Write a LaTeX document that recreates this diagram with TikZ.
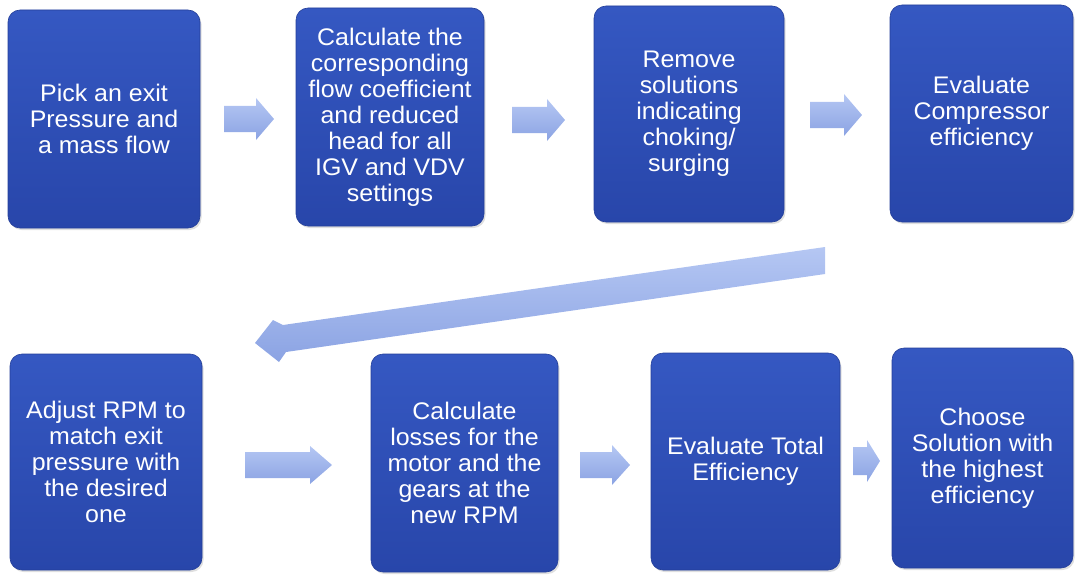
\documentclass[tikz,border=0pt]{standalone}
\usepackage{fontspec}
\setmainfont{Liberation Sans}[FakeStretch=1.04]
\usetikzlibrary{shadows}
\definecolor{boxtop}{HTML}{3558C2}
\definecolor{boxbot}{HTML}{2846AA}
\definecolor{arrlight}{HTML}{B5C7F3}
\definecolor{arrdark}{HTML}{8BA3E3}
\tikzset{
  stepbox/.style={rounded corners=12pt, top color=boxtop, bottom color=boxbot,
    draw=boxbot!90!black, line width=0.6pt, text=white, align=center,
    font=\fontsize{24}{26}\selectfont, inner sep=0pt,
    drop shadow={opacity=0.25, shadow xshift=1.5pt, shadow yshift=-2pt}},
  blockarrow/.style={top color=arrlight, bottom color=arrdark, draw=none}
}
% left x, right x, centre y, body half height, head half height, head length
\newcommand{\harrow}[6]{%
  \shade[blockarrow] (#1,#3-#4) -- (#2-#6,#3-#4) -- (#2-#6,#3-#5) -- (#2,#3)
    -- (#2-#6,#3+#5) -- (#2-#6,#3+#4) -- (#1,#3+#4) -- cycle;}
\begin{document}
\begin{tikzpicture}[x=1pt,y=-1pt]
\useasboundingbox (0,0) rectangle (1075,575);
% top row
\node[stepbox, minimum width=192pt, minimum height=218pt] (b1) at (104,119)
  {Pick an exit\\Pressure and\\a mass flow};
\node[stepbox, minimum width=188pt, minimum height=218pt] (b2) at (390,117)
  {Calculate the\\corresponding\\flow coefficient\\and reduced\\head for all\\IGV and VDV\\settings};
\node[stepbox, minimum width=190pt, minimum height=216pt] (b3) at (689,114)
  {Remove\\solutions\\indicating\\choking/\\surging};
\node[stepbox, minimum width=183pt, minimum height=217pt] (b4) at (981.5,113.5)
  {Evaluate\\Compressor\\efficiency};
% bottom row
\node[stepbox, minimum width=192pt, minimum height=216pt] (b5) at (106,462)
  {Adjust RPM to\\match exit\\pressure with\\the desired\\one};
\node[stepbox, minimum width=187pt, minimum height=218pt] (b6) at (464.5,463)
  {Calculate\\losses for the\\motor and the\\gears at the\\new RPM};
\node[stepbox, minimum width=189pt, minimum height=217pt] (b7) at (745.5,461.5)
  {Evaluate Total\\Efficiency};
\node[stepbox, minimum width=181pt, minimum height=220pt] (b8) at (982.5,458)
  {Choose\\Solution with\\the highest\\efficiency};
% block arrows
\harrow{224}{274}{119}{13}{21}{18}
\harrow{512}{565}{120}{13}{21}{18}
\harrow{810}{862}{115}{13}{21}{18}
\harrow{245}{332}{465}{13}{19}{22}
\harrow{580}{630}{465}{13}{20}{18}
\harrow{853}{880}{461}{14}{21}{13}
% long diagonal return arrow
\shade[blockarrow] (825,247) -- (283,325) -- (273,320) -- (255,343) -- (279,362)
  -- (286,352) -- (825,274) -- cycle;
\end{tikzpicture}
\end{document}
